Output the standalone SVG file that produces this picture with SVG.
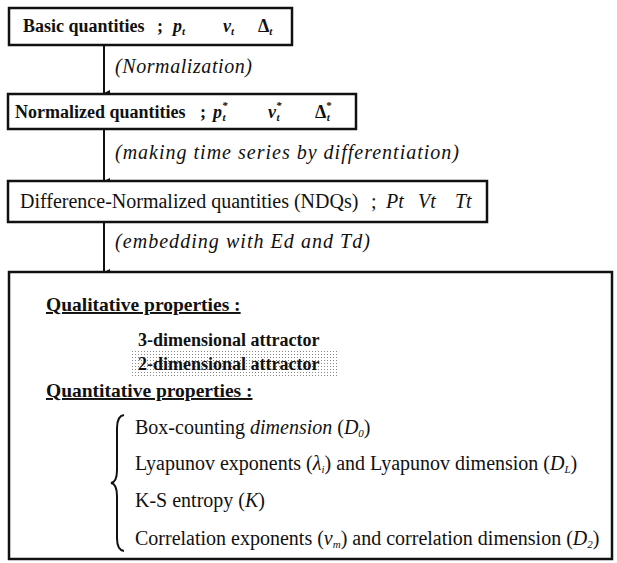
<svg xmlns="http://www.w3.org/2000/svg" width="617" height="563" viewBox="0 0 617 563">
<defs>
<marker id="ah" markerWidth="8" markerHeight="8" refX="4" refY="7" orient="auto" markerUnits="userSpaceOnUse">
<path d="M1,1 L4,7 L7,1 Z" fill="#111"/>
</marker>
<pattern id="dots" width="3" height="3" patternUnits="userSpaceOnUse">
<rect x="0" y="0" width="1" height="1" fill="#888"/>
</pattern>
<style>
.box{fill:#fff;stroke:#111;stroke-width:2.5}
text{font-family:'Liberation Serif','DejaVu Serif',serif;fill:#111}
.b{font-weight:bold}
.i{font-style:italic}
.h{font-size:18px}
.lab{font-size:20px;font-style:italic}
.body{font-size:20px}
.hd{font-size:19.5px;font-weight:bold;text-decoration:underline}
.conn{stroke:#111;stroke-width:2;fill:none}
</style>
</defs>
<rect width="617" height="563" fill="#fff"/>
<g id="connectors">
<line class="conn" x1="104" y1="45" x2="104" y2="93" marker-end="url(#ah)"/>
<line class="conn" x1="104" y1="129" x2="104" y2="181" marker-end="url(#ah)"/>
<line class="conn" x1="104" y1="222" x2="104" y2="272" marker-end="url(#ah)"/>
<text class="lab" x="115" y="73" textLength="137" lengthAdjust="spacing">(Normalization)</text>
<text class="lab" x="115" y="159" textLength="344" lengthAdjust="spacing">(making time series by differentiation)</text>
<text class="lab" x="115" y="248" textLength="255" lengthAdjust="spacing">(embedding with  Ed  and  Td)</text>
</g>
<g id="basic">
<rect class="box" x="9" y="8" width="283" height="37"/>
<text class="b h" x="23" y="32">Basic quantities</text>
<text class="b h" x="157" y="32">;</text>
<text class="b i h" x="173" y="32">p<tspan font-size="11" dy="3">t</tspan></text>
<text class="b i h" x="223" y="32">v<tspan font-size="11" dy="3">t</tspan></text>
<text class="b h" x="258" y="32">Δ<tspan font-size="11" font-style="italic" dy="3">t</tspan></text>
</g>
<g id="normalized">
<rect class="box" x="8" y="94" width="348" height="35"/>
<text class="b h" x="15" y="118">Normalized quantities</text>
<text class="b h" x="200" y="118">;</text>
<text class="b i h" x="213" y="118">p<tspan font-size="11" dy="-9">*</tspan><tspan font-size="11" dx="-5" dy="12">t</tspan></text>
<text class="b i h" x="268" y="118">v<tspan font-size="11" dy="-9">*</tspan><tspan font-size="11" dx="-5" dy="12">t</tspan></text>
<text class="b h" x="315" y="118">Δ<tspan font-size="11" dy="-9">*</tspan><tspan font-size="11" font-style="italic" dx="-5" dy="12">t</tspan></text>
</g>
<g id="ndq">
<rect class="box" x="8" y="181" width="479" height="41"/>
<text class="body" x="20" y="208">Difference-Normalized quantities (NDQs)</text>
<text class="body" x="371" y="208">;</text>
<text class="i body" x="386" y="208">Pt</text>
<text class="i body" x="418" y="208">Vt</text>
<text class="i body" x="455" y="208">Tt</text>
</g>
<g id="properties">
<rect class="box" x="9" y="272" width="603" height="287"/>
<text class="hd" x="46" y="311">Qualitative properties :</text>
<text class="b h" x="138" y="346">3-dimensional attractor</text>
<rect x="132" y="351" width="205" height="26" fill="url(#dots)"/>
<text class="b h" x="138" y="370">2-dimensional attractor</text>
<text class="hd" x="46" y="397">Quantitative properties :</text>
<path class="conn" d="M124,415 Q117,416 117,428 L117,470 Q117,482 111,483 Q117,484 117,496 L117,538 Q117,550 124,551"/>
<text class="body" x="135" y="434">Box-counting <tspan font-style="italic">dimension</tspan> (<tspan font-style="italic">D<tspan font-size="11" dy="3">0</tspan></tspan><tspan dy="-3">)</tspan></text>
<text class="body" x="135" y="470">Lyapunov exponents (<tspan font-style="italic">λ<tspan font-size="11" dy="3">i</tspan></tspan><tspan dy="-3">) and Lyapunov dimension (</tspan><tspan font-style="italic">D<tspan font-size="11" dy="3">L</tspan></tspan><tspan dy="-3">)</tspan></text>
<text class="body" x="135" y="507">K-S entropy (<tspan font-style="italic">K</tspan>)</text>
<text class="body" x="135" y="545">Correlation exponents (<tspan font-style="italic">ν<tspan font-size="11" dy="3">m</tspan></tspan><tspan dy="-3">) and correlation dimension (</tspan><tspan font-style="italic">D<tspan font-size="11" dy="3">2</tspan></tspan><tspan dy="-3">)</tspan></text>
</g>
</svg>
